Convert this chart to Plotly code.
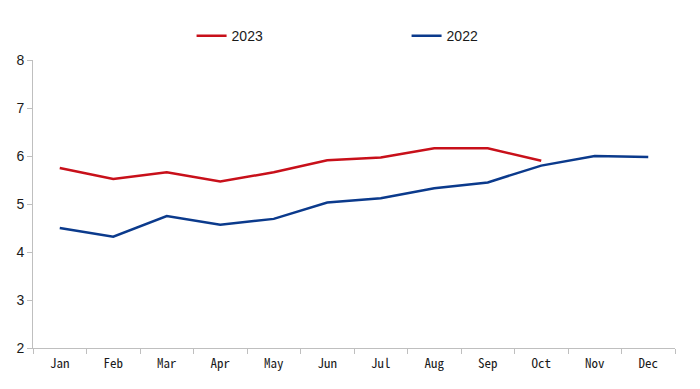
import plotly.graph_objects as go

months = ["Jan", "Feb", "Mar", "Apr", "May", "Jun", "Jul", "Aug", "Sep", "Oct", "Nov", "Dec"]
values_2023 = [5.75, 5.52, 5.66, 5.47, 5.66, 5.91, 5.97, 6.16, 6.16, 5.90]
values_2022 = [4.50, 4.32, 4.75, 4.57, 4.69, 5.03, 5.12, 5.33, 5.45, 5.80, 6.00, 5.98]
y_ticks = [2, 3, 4, 5, 6, 7, 8]

fig = go.Figure()
fig.add_trace(go.Scatter(x=months[:len(values_2023)], y=values_2023, mode="lines", name="2023",
                         line=dict(color="#C8101A", width=2.5)))
fig.add_trace(go.Scatter(x=months, y=values_2022, mode="lines", name="2022",
                         line=dict(color="#0B3A8C", width=2.5)))

fig.update_layout(
    width=700, height=389,
    margin=dict(l=25, r=33, t=48, b=49),
    paper_bgcolor="white", plot_bgcolor="white",
    showlegend=True,
    legend=dict(orientation="h", x=0.247, xanchor="left", y=1.083, yanchor="middle",
                entrywidth=170, entrywidthmode="pixels",
                font=dict(family="Liberation Sans, Arial, sans-serif", size=14, color="#1a1a1a"),
                traceorder="normal", bgcolor="rgba(0,0,0,0)"),
    xaxis=dict(categoryorder="array", categoryarray=months, range=[-0.5, 11.5], automargin=False,
               showline=True, linecolor="#BFBFBF", linewidth=1, showgrid=False,
               ticks="outside", tickson="boundaries", ticklen=5, tickcolor="#BFBFBF",
               ticklabelstandoff=3,
               tickfont=dict(family="Noto Sans Mono CJK JP, DejaVu Sans Mono, monospace", size=13, color="#1a1a1a")),
    yaxis=dict(range=[2, 8], tickvals=y_ticks, showline=True, linecolor="#BFBFBF", linewidth=1, automargin=False,
               showgrid=False, zeroline=False, ticks="outside", ticklen=5, tickcolor="#BFBFBF",
               tickfont=dict(family="Liberation Sans, Arial, sans-serif", size=14, color="#1a1a1a")),
)

fig.write_html("out.html")
